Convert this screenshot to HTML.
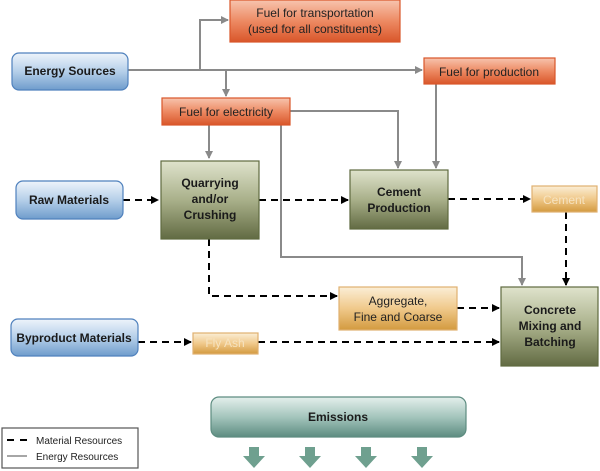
<!DOCTYPE html>
<html><head><style>body{margin:0;background:#fff}svg{display:block;font-family:"Liberation Sans",sans-serif}</style></head><body>
<svg width="600" height="471" viewBox="0 0 600 471">
<defs>
<linearGradient id="bl" x1="0" y1="0" x2="0" y2="1"><stop offset="0" stop-color="#eef4fb"/><stop offset="0.5" stop-color="#b5cfe9"/><stop offset="1" stop-color="#6f9ccc"/></linearGradient>
<linearGradient id="or" x1="0" y1="0" x2="0" y2="1"><stop offset="0" stop-color="#f7c4ae"/><stop offset="0.5" stop-color="#ed8a63"/><stop offset="1" stop-color="#d9562a"/></linearGradient>
<linearGradient id="gr" x1="0" y1="0" x2="0" y2="1"><stop offset="0" stop-color="#dfe3cc"/><stop offset="0.5" stop-color="#a9b08a"/><stop offset="1" stop-color="#626b43"/></linearGradient>
<linearGradient id="yo" x1="0" y1="0" x2="0" y2="1"><stop offset="0" stop-color="#fbeed6"/><stop offset="0.5" stop-color="#f0c98b"/><stop offset="1" stop-color="#d39a3f"/></linearGradient>
<linearGradient id="te" x1="0" y1="0" x2="0" y2="1"><stop offset="0" stop-color="#e4efec"/><stop offset="0.5" stop-color="#a4c5bc"/><stop offset="1" stop-color="#5d8c80"/></linearGradient>
<marker id="ag" markerWidth="8" markerHeight="8" refX="7" refY="4" orient="auto" markerUnits="userSpaceOnUse"><path d="M0,0 L8,4 L0,8z" fill="#8a8a8a"/></marker>
<marker id="ak" markerWidth="8" markerHeight="8" refX="7" refY="4" orient="auto" markerUnits="userSpaceOnUse"><path d="M0,0 L8,4 L0,8z" fill="#000"/></marker>
</defs>
<g fill="none" stroke="#8a8a8a" stroke-width="2">
<path d="M128 70 H422" marker-end="url(#ag)"/>
<path d="M200 70 V20 H228" marker-end="url(#ag)"/>
<path d="M226 70 V96" marker-end="url(#ag)"/>
<path d="M436 84 V168" marker-end="url(#ag)"/>
<path d="M290 111 H398 V168" marker-end="url(#ag)"/>
<path d="M281 125 V257 H522 V285" marker-end="url(#ag)"/>
<path d="M209 125 V158" marker-end="url(#ag)"/>
</g>
<g fill="none" stroke="#000" stroke-width="2" stroke-dasharray="7,5">
<path d="M123 200 H158" marker-end="url(#ak)"/>
<path d="M259 200 H348" marker-end="url(#ak)"/>
<path d="M448 199 H530" marker-end="url(#ak)"/>
<path d="M566 212 V285" marker-end="url(#ak)"/>
<path d="M209 239 V296 H337" marker-end="url(#ak)"/>
<path d="M457 308 H499" marker-end="url(#ak)"/>
<path d="M138 342 H191" marker-end="url(#ak)"/>
<path d="M258 342 H499" marker-end="url(#ak)"/>
</g>
<g stroke-width="1.2">
<rect x="12" y="53" width="116" height="37" rx="7" fill="url(#bl)" stroke="#4f81bd"/>
<rect x="16" y="181" width="107" height="38" rx="7" fill="url(#bl)" stroke="#4f81bd"/>
<rect x="11" y="319" width="127" height="37" rx="7" fill="url(#bl)" stroke="#4f81bd"/>
<rect x="230" y="0" width="170" height="42" fill="url(#or)" stroke="#d9562a"/>
<rect x="424" y="58" width="131" height="26" fill="url(#or)" stroke="#d9562a"/>
<rect x="162" y="98" width="128" height="27" fill="url(#or)" stroke="#d9562a"/>
<rect x="161" y="161" width="98" height="78" fill="url(#gr)" stroke="#5f6a3f"/>
<rect x="350" y="170" width="98" height="59" fill="url(#gr)" stroke="#5f6a3f"/>
<rect x="501" y="287" width="97" height="79" fill="url(#gr)" stroke="#5f6a3f"/>
<rect x="532" y="186" width="65" height="26" fill="url(#yo)" stroke="#e0b070"/>
<rect x="339" y="287" width="118" height="43" fill="url(#yo)" stroke="#e0b070"/>
<rect x="193" y="333" width="65" height="21" fill="url(#yo)" stroke="#e0b070"/>
<rect x="211" y="397" width="255" height="40" rx="8" fill="url(#te)" stroke="#5d8c80"/>
<rect x="2" y="428" width="136" height="40" fill="#fff" stroke="#555"/>
</g>
<g font-size="12" font-weight="bold" fill="#1a1a1a" text-anchor="middle">
<text x="70" y="75">Energy Sources</text>
<text x="69" y="204">Raw Materials</text>
<text x="74" y="342">Byproduct Materials</text>
<text x="210" y="187">Quarrying</text>
<text x="210" y="203">and/or</text>
<text x="210" y="219">Crushing</text>
<text x="399" y="196">Cement</text>
<text x="399" y="212">Production</text>
<text x="550" y="314">Concrete</text>
<text x="550" y="330">Mixing and</text>
<text x="550" y="346">Batching</text>
<text x="338" y="421">Emissions</text>
</g>
<g font-size="12" fill="#222" text-anchor="middle">
<text x="315" y="17">Fuel for transportation</text>
<text x="315" y="33">(used for all constituents)</text>
<text x="489" y="76">Fuel for production</text>
<text x="226" y="116">Fuel for electricity</text>
<text x="398" y="305">Aggregate,</text>
<text x="398" y="321">Fine and Coarse</text>
<text x="564" y="204" fill="#f6e3c0">Cement</text>
<text x="225" y="347" fill="#f6e3c0">Fly Ash</text>
</g>
<path d="M7 440 H14 M20 440 H27" stroke="#000" stroke-width="2"/>
<path d="M7 456 H27" stroke="#888" stroke-width="1.5"/>
<g font-size="10" fill="#222"><text x="36" y="444">Material Resources</text><text x="36" y="460">Energy Resources</text></g>
<g fill="#6fa08f">
<path d="M249 447 h10 v9 h6 l-11 12 l-11 -12 h6z"/>
<path d="M305 447 h10 v9 h6 l-11 12 l-11 -12 h6z"/>
<path d="M361 447 h10 v9 h6 l-11 12 l-11 -12 h6z"/>
<path d="M417 447 h10 v9 h6 l-11 12 l-11 -12 h6z"/>
</g>
</svg>
</body></html>
